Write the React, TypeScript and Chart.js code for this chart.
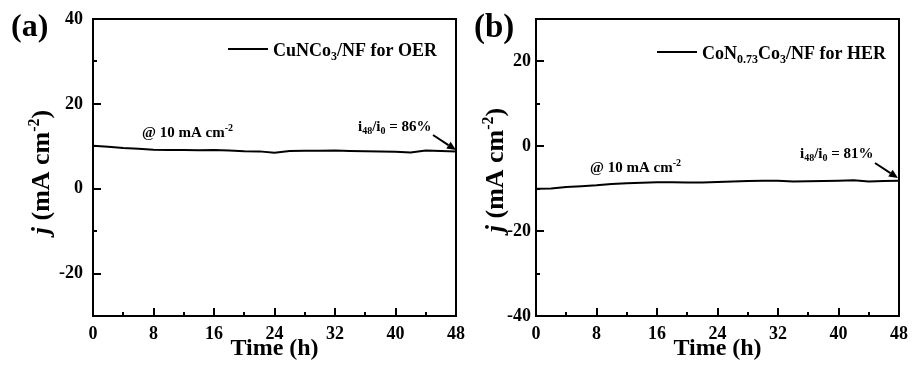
import React, { useEffect, useRef } from 'react';
import Chart from 'chart.js/auto';

// ---------- data ----------
const timeH = [0, 2, 4, 6, 8, 10, 12, 14, 16, 18, 20, 22, 24, 26, 28, 30, 32, 34, 36, 38, 40, 42, 44, 46, 48];
const currentOER = [10.1, 9.9, 9.6, 9.4, 9.2, 9.15, 9.1, 9.05, 9.1, 9.0, 8.85, 8.8, 8.5, 8.9, 8.95, 8.95, 9.0, 8.9, 8.85, 8.8, 8.7, 8.55, 9.0, 8.9, 8.8];
const currentHER = [-10.0, -9.95, -9.6, -9.4, -9.2, -8.9, -8.7, -8.6, -8.5, -8.5, -8.55, -8.55, -8.4, -8.3, -8.2, -8.15, -8.1, -8.3, -8.25, -8.2, -8.1, -8.0, -8.3, -8.2, -8.1];
const xTicks = [0, 8, 16, 24, 32, 40, 48];
const yTicksA = [-20, 0, 20, 40];
const yTicksB = [-40, -20, 0, 20];

const FONT = '"Liberation Serif", "Times New Roman", serif';

type Seg = { t: string; size: number; dy?: number; italic?: boolean };

function fontOf(s: Seg) {
  return `${s.italic ? 'italic ' : ''}bold ${s.size}px ${FONT}`;
}

function richWidth(ctx: CanvasRenderingContext2D, segs: Seg[]) {
  let w = 0;
  for (const s of segs) {
    ctx.font = fontOf(s);
    w += ctx.measureText(s.t).width;
  }
  return w;
}

function drawRich(ctx: CanvasRenderingContext2D, segs: Seg[], x: number, y: number) {
  ctx.textBaseline = 'alphabetic';
  ctx.textAlign = 'left';
  let cx = x;
  for (const s of segs) {
    ctx.font = fontOf(s);
    ctx.fillText(s.t, cx, y + (s.dy || 0));
    cx += ctx.measureText(s.t).width;
  }
}

type PanelCfg = {
  label: string;
  labelSize: number;
  labelPos: [number, number];
  yTitlePos: [number, number];
  legendLine: [number, number, number];
  legendText: Seg[];
  legendTextPos: [number, number];
  condPos: [number, number];
  ratioText: Seg[];
  ratioPos: [number, number];
  arrow: [number, number, number, number];
};

const yTitle: Seg[] = [
  { t: 'j', size: 26, italic: true },
  { t: ' (mA cm', size: 26 },
  { t: '-2', size: 16, dy: -10 },
  { t: ')', size: 26 },
];
const condText: Seg[] = [
  { t: '@ 10 mA cm', size: 15 },
  { t: '-2', size: 10, dy: -6 },
];

const decorPlugin = {
  id: 'decor',
  afterDraw(chart: any, _args: any, opts: any) {
    const cfg: PanelCfg = opts.cfg;
    if (!cfg) return;
    const { ctx, chartArea: ca, scales } = chart;
    const xs = scales.x;
    const ys = scales.y;
    ctx.save();
    ctx.strokeStyle = '#000';
    ctx.fillStyle = '#000';
    ctx.lineWidth = 2;
    // frame
    ctx.strokeRect(ca.left, ca.top, ca.right - ca.left, ca.bottom - ca.top);
    // x ticks (inward)
    ctx.beginPath();
    for (let v = xs.min; v <= xs.max + 1e-9; v += 4) {
      const px = Math.round(xs.getPixelForValue(v));
      const len = v % 8 === 0 ? 8 : 4;
      ctx.moveTo(px, ca.bottom);
      ctx.lineTo(px, ca.bottom - len);
    }
    // y ticks (inward)
    for (let v = Math.ceil(ys.min / 10) * 10; v <= ys.max + 1e-9; v += 10) {
      const py = Math.round(ys.getPixelForValue(v));
      const len = v % 20 === 0 ? 8 : 4;
      ctx.moveTo(ca.left, py);
      ctx.lineTo(ca.left + len, py);
    }
    ctx.stroke();

    // panel label
    ctx.font = `bold ${cfg.labelSize}px ${FONT}`;
    ctx.textAlign = 'left';
    ctx.textBaseline = 'alphabetic';
    ctx.fillText(cfg.label, cfg.labelPos[0], cfg.labelPos[1]);

    // x title
    ctx.font = `bold 24px ${FONT}`;
    ctx.textAlign = 'center';
    ctx.fillText('Time (h)', (ca.left + ca.right) / 2, 355);

    // y title (rotated)
    ctx.save();
    ctx.translate(cfg.yTitlePos[0], cfg.yTitlePos[1]);
    ctx.rotate(-Math.PI / 2);
    const w = richWidth(ctx, yTitle);
    drawRich(ctx, yTitle, -w / 2, 9);
    ctx.restore();

    // legend
    ctx.beginPath();
    ctx.moveTo(cfg.legendLine[0], cfg.legendLine[2]);
    ctx.lineTo(cfg.legendLine[1], cfg.legendLine[2]);
    ctx.stroke();
    drawRich(ctx, cfg.legendText, cfg.legendTextPos[0], cfg.legendTextPos[1]);

    // annotations
    drawRich(ctx, condText, cfg.condPos[0], cfg.condPos[1]);
    drawRich(ctx, cfg.ratioText, cfg.ratioPos[0], cfg.ratioPos[1]);

    // arrow
    const [x1, y1, x2, y2] = cfg.arrow;
    const ang = Math.atan2(y2 - y1, x2 - x1);
    const hl = 9;
    const hw = 4;
    const bx = x2 - hl * Math.cos(ang);
    const by = y2 - hl * Math.sin(ang);
    ctx.lineWidth = 2;
    ctx.beginPath();
    ctx.moveTo(x1, y1);
    ctx.lineTo(bx, by);
    ctx.stroke();
    ctx.beginPath();
    ctx.moveTo(x2, y2);
    ctx.lineTo(bx + hw * Math.sin(ang), by - hw * Math.cos(ang));
    ctx.lineTo(bx - hw * Math.sin(ang), by + hw * Math.cos(ang));
    ctx.closePath();
    ctx.fill();
    ctx.restore();
  },
};

function makeChart(
  canvas: HTMLCanvasElement,
  values: number[],
  yMin: number,
  yMax: number,
  yTicks: number[],
  axisWidth: number,
  rightPad: number,
  yLabelPad: number,
  cfg: PanelCfg
) {
  return new Chart(canvas, {
    type: 'line',
    data: {
      datasets: [
        {
          data: timeH.map((t, i) => ({ x: t, y: values[i] })),
          borderColor: '#000',
          borderWidth: 2,
          pointRadius: 0,
          tension: 0,
          fill: false,
        },
      ],
    },
    options: {
      animation: false,
      responsive: false,
      devicePixelRatio: 1,
      events: [],
      layout: { padding: { left: 0, top: 19, right: rightPad, bottom: 0 } },
      plugins: {
        legend: { display: false },
        tooltip: { enabled: false },
        decor: { cfg },
      } as any,
      scales: {
        x: {
          type: 'linear',
          min: 0,
          max: 48,
          grid: { display: false, drawTicks: false },
          border: { display: false },
          ticks: {
            color: '#000',
            font: { family: FONT, size: 18, weight: 'bold' },
            padding: 8,
            maxRotation: 0,
            autoSkip: false,
          },
          afterBuildTicks: (s: any) => {
            s.ticks = xTicks.map((v) => ({ value: v }));
          },
          afterFit: (s: any) => {
            s.height = 56;
            s.paddingLeft = 0;
            s.paddingRight = 0;
          },
        },
        y: {
          type: 'linear',
          min: yMin,
          max: yMax,
          grid: { display: false, drawTicks: false },
          border: { display: false },
          ticks: {
            color: '#000',
            font: { family: FONT, size: 18, weight: 'bold' },
            padding: yLabelPad,
            autoSkip: false,
          },
          afterBuildTicks: (s: any) => {
            s.ticks = yTicks.map((v) => ({ value: v }));
          },
          afterFit: (s: any) => {
            s.width = axisWidth;
            s.paddingTop = 0;
            s.paddingBottom = 0;
          },
        },
      },
    } as any,
    plugins: [decorPlugin as any],
  });
}

const cfgA: PanelCfg = {
  label: '(a)',
  labelSize: 32,
  labelPos: [11, 36],
  yTitlePos: [40, 172],
  legendLine: [228, 268, 49],
  legendText: [
    { t: 'CuNCo', size: 18 },
    { t: '3', size: 12, dy: 4 },
    { t: '/NF for OER', size: 18 },
  ],
  legendTextPos: [273, 56],
  condPos: [142, 137],
  ratioText: [
    { t: 'i', size: 15 },
    { t: '48', size: 10, dy: 3 },
    { t: '/i', size: 15 },
    { t: '0', size: 10, dy: 3 },
    { t: ' = 86%', size: 15 },
  ],
  ratioPos: [358, 131],
  arrow: [433, 135, 456, 150],
};

const cfgB: PanelCfg = {
  label: '(b)',
  labelSize: 33,
  labelPos: [474, 37],
  yTitlePos: [494, 170],
  legendLine: [657, 697, 52],
  legendText: [
    { t: 'CoN', size: 18 },
    { t: '0.73', size: 12, dy: 4 },
    { t: 'Co', size: 18 },
    { t: '3', size: 12, dy: 4 },
    { t: '/NF for HER', size: 18 },
  ],
  legendTextPos: [702, 59],
  condPos: [590, 172],
  ratioText: [
    { t: 'i', size: 15 },
    { t: '48', size: 10, dy: 3 },
    { t: '/i', size: 15 },
    { t: '0', size: 10, dy: 3 },
    { t: ' = 81%', size: 15 },
  ],
  ratioPos: [800, 158],
  arrow: [875, 163, 898, 178],
};

export default function App() {
  const refA = useRef<HTMLCanvasElement>(null);
  const refB = useRef<HTMLCanvasElement>(null);

  useEffect(() => {
    const a = makeChart(refA.current!, currentOER, -30, 40, yTicksA, 93, 912 - 456, 10, cfgA);
    const b = makeChart(refB.current!, currentHER, -40, 30, yTicksB, 536, 912 - 899, 5, cfgB);
    return () => {
      a.destroy();
      b.destroy();
    };
  }, []);

  const style: React.CSSProperties = {
    position: 'absolute',
    left: 0,
    top: 0,
    width: 912,
    height: 372,
  };

  return (
    <div style={{ position: 'absolute', left: 0, top: 0, width: 912, height: 372, background: '#fff' }}>
      <canvas ref={refA} width={912} height={372} style={style} />
      <canvas ref={refB} width={912} height={372} style={style} />
    </div>
  );
}
